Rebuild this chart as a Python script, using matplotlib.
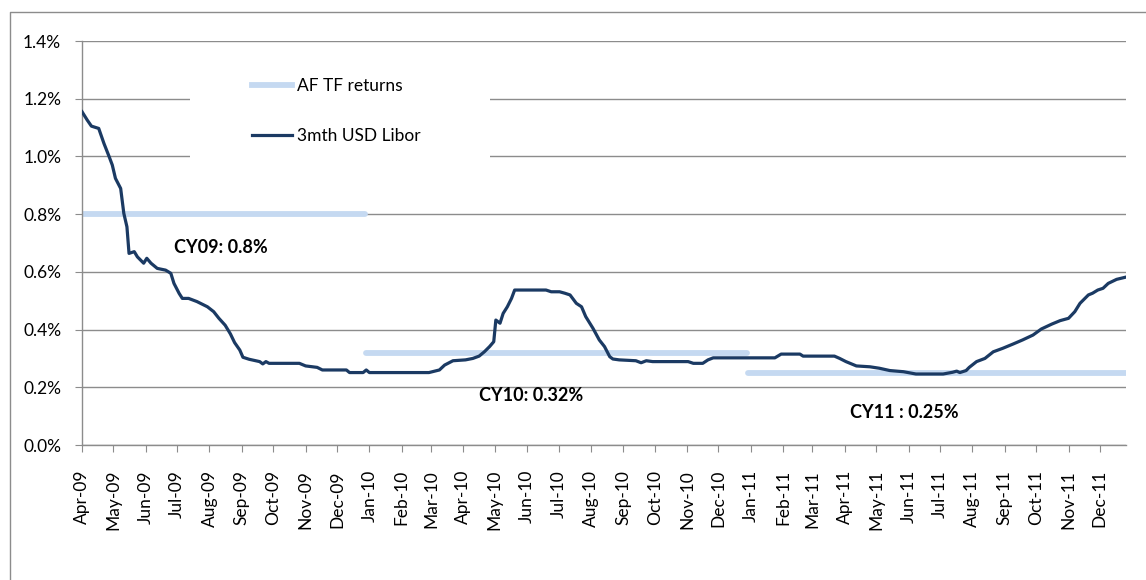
import numpy as np
import pandas as pd
import matplotlib
import matplotlib.pyplot as plt
import matplotlib.dates as mdates
from matplotlib.patches import Rectangle
from matplotlib.lines import Line2D

matplotlib.use('agg')

# 3 month USD Libor (percent)
libor_dates = [
    "2009-04-01", "2009-04-06", "2009-04-10", "2009-04-17", "2009-04-22", "2009-04-27",
    "2009-04-30", "2009-05-03", "2009-05-08", "2009-05-11", "2009-05-14", "2009-05-16",
    "2009-05-21", "2009-05-24", "2009-05-30", "2009-06-02", "2009-06-06", "2009-06-12",
    "2009-06-20", "2009-06-25", "2009-06-28", "2009-07-03", "2009-07-06", "2009-07-12",
    "2009-07-20", "2009-07-30", "2009-08-05", "2009-08-10", "2009-08-16", "2009-08-21",
    "2009-08-25", "2009-08-30", "2009-09-02", "2009-09-08", "2009-09-18", "2009-09-21",
    "2009-09-24", "2009-09-27", "2009-10-26", "2009-11-01", "2009-11-12", "2009-11-17",
    "2009-12-10", "2009-12-13", "2009-12-26", "2009-12-29", "2010-01-01", "2010-02-27",
    "2010-03-09", "2010-03-14", "2010-03-22", "2010-04-03", "2010-04-10", "2010-04-16",
    "2010-04-21", "2010-04-26", "2010-04-30", "2010-05-02", "2010-05-06", "2010-05-09",
    "2010-05-13", "2010-05-17", "2010-05-20", "2010-06-19", "2010-06-24", "2010-07-02",
    "2010-07-07", "2010-07-12", "2010-07-18", "2010-07-23", "2010-07-27", "2010-08-03",
    "2010-08-09", "2010-08-14", "2010-08-19", "2010-08-22", "2010-08-28", "2010-09-13",
    "2010-09-18", "2010-09-23", "2010-09-29", "2010-11-02", "2010-11-07", "2010-11-16",
    "2010-11-21", "2010-11-26", "2011-01-24", "2011-01-30", "2011-02-17", "2011-02-20",
    "2011-03-22", "2011-03-27", "2011-04-02", "2011-04-12", "2011-04-25", "2011-05-04",
    "2011-05-14", "2011-05-27", "2011-06-08", "2011-07-04", "2011-07-13", "2011-07-17",
    "2011-07-20", "2011-07-26", "2011-07-29", "2011-08-05", "2011-08-13", "2011-08-21",
    "2011-08-30", "2011-09-09", "2011-09-18", "2011-09-28", "2011-10-06", "2011-10-16",
    "2011-10-24", "2011-11-01", "2011-11-07", "2011-11-12", "2011-11-20", "2011-11-24",
    "2011-11-29", "2011-12-04", "2011-12-09", "2011-12-17", "2011-12-25",
]
libor_values = [
    1.155, 1.126, 1.105, 1.097, 1.045, 0.999,
    0.970, 0.924, 0.889, 0.803, 0.756, 0.664,
    0.670, 0.652, 0.630, 0.647, 0.630, 0.612,
    0.606, 0.595, 0.560, 0.525, 0.508, 0.508,
    0.497, 0.479, 0.462, 0.439, 0.415, 0.385,
    0.355, 0.329, 0.304, 0.297, 0.289, 0.281,
    0.289, 0.283, 0.283, 0.274, 0.269, 0.260,
    0.260, 0.251, 0.251, 0.260, 0.251, 0.251,
    0.260, 0.277, 0.292, 0.295, 0.300, 0.308,
    0.323, 0.341, 0.358, 0.433, 0.422, 0.456,
    0.479, 0.508, 0.537, 0.537, 0.531, 0.531,
    0.526, 0.520, 0.491, 0.479, 0.445, 0.404,
    0.364, 0.341, 0.306, 0.298, 0.295, 0.292,
    0.285, 0.292, 0.289, 0.289, 0.283, 0.283,
    0.295, 0.302, 0.302, 0.315, 0.315, 0.308,
    0.308, 0.300, 0.289, 0.274, 0.271, 0.266,
    0.258, 0.254, 0.246, 0.246, 0.252, 0.256,
    0.251, 0.258, 0.269, 0.289, 0.300, 0.323,
    0.335, 0.350, 0.364, 0.381, 0.402, 0.419,
    0.431, 0.439, 0.462, 0.491, 0.520, 0.526,
    0.537, 0.543, 0.560, 0.574, 0.581,
]

# AF TF returns per calendar year
cy_labels = ["CY09: 0.8%", "CY10: 0.32%", "CY11 : 0.25%"]
cy_start = ["2009-04-01", "2009-12-29", "2010-12-29"]
cy_end = ["2009-12-28", "2010-12-28", "2011-12-26"]
cy_returns = [0.8, 0.32, 0.25]

plt.rcParams['font.family'] = ['Lato', 'DejaVu Sans']

W, H = 1146, 580
fig = plt.figure(figsize=(W / 100, H / 100), dpi=100)
ax = fig.add_axes([82 / W, 1 - 445 / H, (1126 - 82) / W, (445 - 41) / H])

grey = '#8c8c8c'
dark = '#1b3a63'
light = '#c5d9f1'

# AF TF returns segments
for s, e, v in zip(cy_start, cy_end, cy_returns):
    ax.plot(pd.to_datetime([s, e]), [v, v], color=light, lw=4.2,
            solid_capstyle='round', zorder=2)

# Libor line
ax.plot(pd.to_datetime(libor_dates), libor_values, color=dark, lw=2.3, zorder=3)

# Annotations
ax.text(pd.Timestamp("2009-06-28"), 0.683, cy_labels[0], fontsize=13,
        fontweight='bold', va='center', ha='left')
ax.text(pd.Timestamp("2010-04-16"), 0.173, cy_labels[1], fontsize=13,
        fontweight='bold', va='center', ha='left')
ax.text(pd.Timestamp("2011-04-06"), 0.111, cy_labels[2], fontsize=13,
        fontweight='bold', va='center', ha='left')

# Axes styling
ax.set_xlim(pd.Timestamp("2009-04-01"), pd.Timestamp("2011-12-26"))
ax.set_ylim(0, 1.4)
ax.set_yticks(np.arange(0, 1.41, 0.2))
ax.yaxis.set_major_formatter(matplotlib.ticker.FuncFormatter(lambda v, p: f"{v:.1f}%"))
ax.xaxis.set_major_locator(mdates.MonthLocator())
ax.xaxis.set_major_formatter(mdates.DateFormatter('%b-%y'))
ax.tick_params(axis='x', rotation=90, length=5, color=grey, labelsize=12.5, pad=13)
ax.tick_params(axis='y', length=5, color=grey, labelsize=12.5, pad=10)
for lab in ax.get_xticklabels():
    lab.set_va('top')

ax.grid(axis='y', color=grey, lw=1.0)
ax.set_axisbelow(True)
for side in ['top', 'right']:
    ax.spines[side].set_visible(False)
for side in ['left', 'bottom']:
    ax.spines[side].set_color(grey)
    ax.spines[side].set_linewidth(1.0)

# White legend backing that hides the grid
ax.add_patch(Rectangle((190 / W, 1 - 185 / H), 300 / W, 130 / H,
                       transform=fig.transFigure, facecolor='white',
                       edgecolor='none', zorder=1))
handles = [Line2D([], [], color=light, lw=4.2),
           Line2D([], [], color=dark, lw=2.3)]
fig.legend(handles, ["AF TF returns", "3mth USD Libor"], loc='upper left',
           bbox_to_anchor=(252 / W, 1 - 78 / H), bbox_transform=fig.transFigure,
           frameon=False, fontsize=12.5, handlelength=2.3, handletextpad=0.3,
           labelspacing=1.95, borderpad=0, borderaxespad=0)

# Outer chart frame (left and top only visible)
fig.add_artist(Line2D([10 / W, 10 / W, 1], [0, 1 - 12 / H, 1 - 12 / H],
                      transform=fig.transFigure, color=grey, lw=1.0))

plt.savefig('out.png', dpi=100)
plt.close()
